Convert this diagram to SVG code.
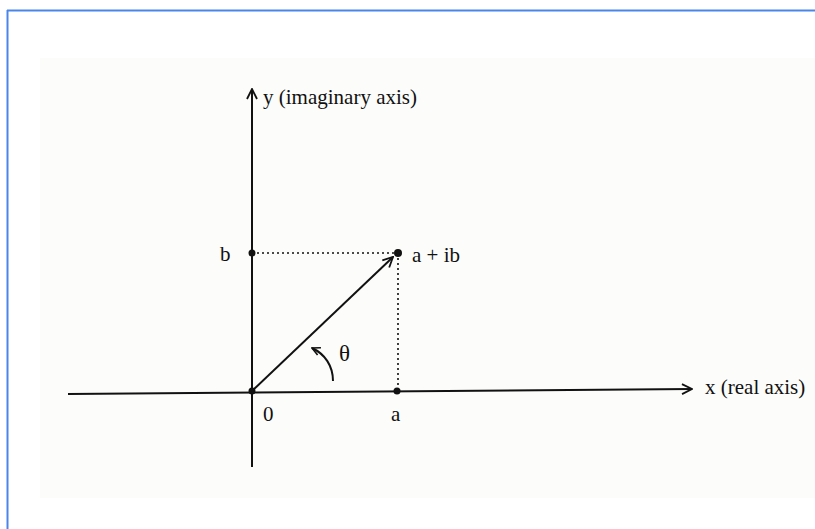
<svg xmlns="http://www.w3.org/2000/svg" width="815" height="529" viewBox="0 0 815 529">
<defs>
<style>
text{font-family:"Liberation Serif","Times New Roman",serif;font-size:21px;fill:#111}
.ax{stroke:#111;stroke-width:2;fill:none}
.dot{stroke:#111;stroke-width:1.6;stroke-dasharray:2 3;fill:none}
.pt{fill:#111}
</style>
<marker id="open" viewBox="0 0 12 12" refX="11" refY="6" markerWidth="12" markerHeight="12" markerUnits="userSpaceOnUse" orient="auto">
<path d="M1,1 L11,6 L1,11" fill="none" stroke="#111" stroke-width="1.8"/>
</marker>
<marker id="small" viewBox="0 0 10 10" refX="9" refY="5" markerWidth="10" markerHeight="10" markerUnits="userSpaceOnUse" orient="auto">
<path d="M1,1 L9,5 L1,9" fill="none" stroke="#111" stroke-width="1.6"/>
</marker>
</defs>
<rect width="815" height="529" fill="#ffffff"/>
<rect x="40" y="58" width="775" height="440" fill="#fcfcfa"/>
<g id="frame">
<line x1="7" y1="10.5" x2="815" y2="10.5" stroke="#4a86e8" stroke-width="2"/>
<line x1="7.5" y1="10" x2="7.5" y2="529" stroke="#4a86e8" stroke-width="2"/>
</g>
<g id="connectors">
<line class="ax" x1="68" y1="394" x2="692" y2="389" marker-end="url(#open)"/>
<line class="ax" x1="252" y1="467" x2="252" y2="89" marker-end="url(#open)"/>
<line class="dot" x1="252" y1="253" x2="398" y2="253"/>
<line class="dot" x1="398" y1="253" x2="398" y2="391"/>
<line class="ax" x1="252" y1="391" x2="393" y2="257" marker-end="url(#open)"/>
<path class="ax" d="M333,381 C333,366 325,354 312,348" stroke-width="1.4" marker-end="url(#small)"/>
</g>
<g id="origin">
<circle class="pt" cx="252" cy="391" r="3.5"/>
<text x="263" y="421">0</text>
</g>
<g id="point-b">
<circle class="pt" cx="252" cy="253" r="3.5"/>
<text x="220" y="261">b</text>
</g>
<g id="point-aib">
<circle class="pt" cx="398" cy="253" r="4"/>
<text x="412" y="262">a + ib</text>
</g>
<g id="point-a">
<circle class="pt" cx="397" cy="391" r="3.5"/>
<text x="391" y="421">a</text>
</g>
<g id="theta">
<text x="339" y="361" style="font-size:23px">θ</text>
</g>
<g id="y-axis-label">
<text x="263" y="104">y (imaginary axis)</text>
</g>
<g id="x-axis-label">
<text x="705" y="394">x (real axis)</text>
</g>
</svg>
